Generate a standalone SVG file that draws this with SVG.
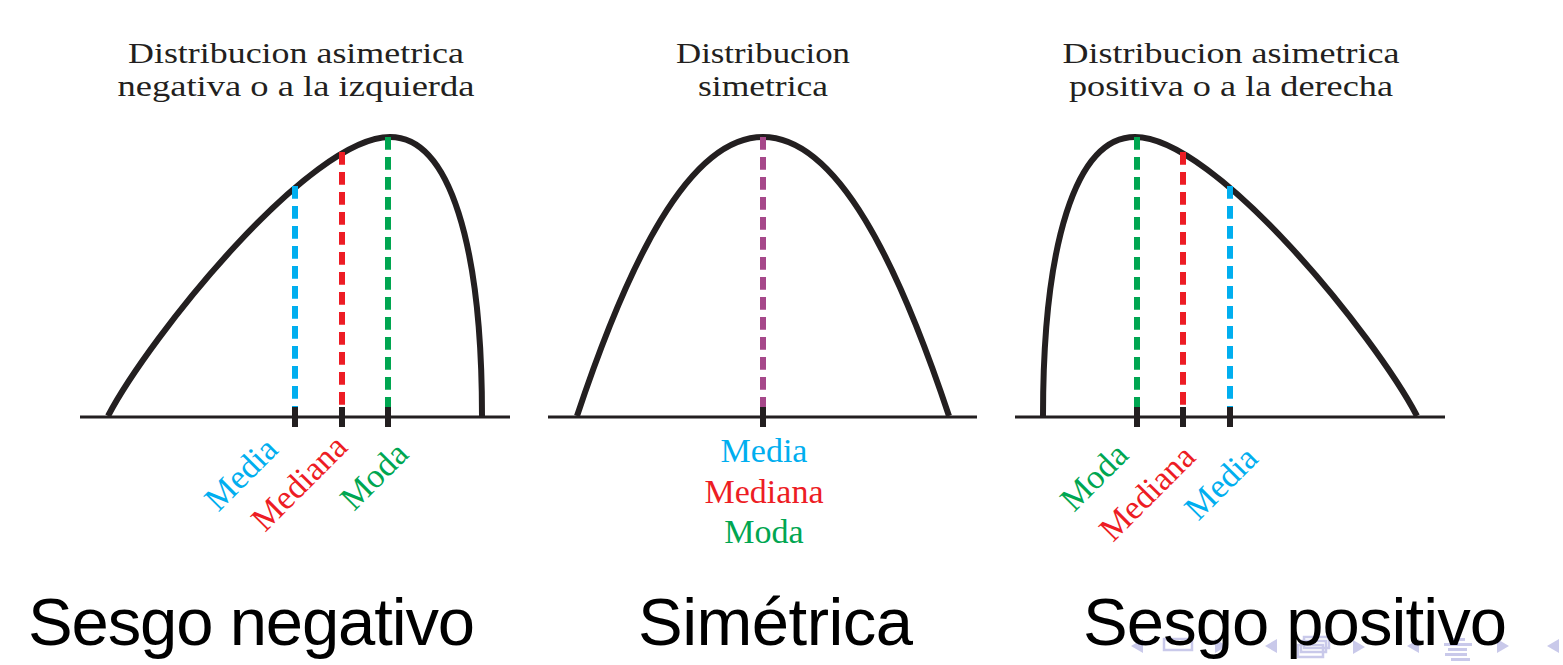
<svg xmlns="http://www.w3.org/2000/svg" width="1563" height="665" viewBox="0 0 1563 665">
<style>
.bg{fill:#ffffff}
.title{font-family:"Liberation Serif","Times New Roman",serif;font-size:30px;fill:#231F20;text-anchor:middle}
.lbl{font-family:"Liberation Serif","Times New Roman",serif;font-size:34px;text-anchor:middle}
.big{font-family:"Liberation Sans",Arial,sans-serif;font-size:67px;fill:#000000}
.axis{stroke:#231F20;stroke-width:3;fill:none}
.curve{stroke:#231F20;stroke-width:6;fill:none}
.tick{stroke:#231F20;stroke-width:6}
.dash{stroke-width:6;stroke-dasharray:12.7 7.3;fill:none}
.blue{fill:#00AEEF;stroke:#00AEEF}
.red{fill:#ED1C24;stroke:#ED1C24}
.green{fill:#00A651;stroke:#00A651}
.purple{stroke:#A6488A}
.nav{fill:#C9C9EA}
.navs{fill:none;stroke:#C9C9EA;stroke-width:2.5}
</style>
<rect class="bg" x="0" y="0" width="1563" height="665"/>

<g id="nav-icons">
  <polygon class="nav" points="1131,646 1143,639 1143,653"/>
  <rect class="navs" x="1164" y="639" width="28" height="11"/>
  <polygon class="nav" points="1227,646 1215,639 1215,653"/>
  <polygon class="nav" points="1265,646 1277,639 1277,653"/>
  <rect class="navs" x="1304" y="637" width="25" height="11"/>
  <rect class="navs" x="1301" y="641" width="25" height="11" fill="#ffffff"/>
  <rect class="navs" x="1298" y="645" width="25" height="12" fill="#ffffff"/>
  <polygon class="nav" points="1365,647 1353,640 1353,654"/>
  <polygon class="nav" points="1407,646 1419,639 1419,653"/>
  <rect class="nav" x="1450" y="638" width="15" height="3"/>
  <rect class="nav" x="1444" y="643" width="28" height="3"/>
  <rect class="nav" x="1448" y="648" width="19" height="3"/>
  <rect class="nav" x="1445" y="653" width="22" height="3"/>
  <rect class="nav" x="1451" y="658" width="19" height="3"/>
  <polygon class="nav" points="1509,646 1497,639 1497,653"/>
  <polygon class="nav" points="1547,646 1559,639 1559,653"/>
</g>

<g id="title-left">
  <text class="title"><tspan x="296" y="62.5" textLength="336" lengthAdjust="spacingAndGlyphs">Distribucion asimetrica</tspan><tspan x="296" y="96" textLength="357" lengthAdjust="spacingAndGlyphs">negativa o a la izquierda</tspan></text>
</g>
<g id="title-mid">
  <text class="title"><tspan x="763" y="62.5" textLength="174" lengthAdjust="spacingAndGlyphs">Distribucion</tspan><tspan x="763" y="96" textLength="130" lengthAdjust="spacingAndGlyphs">simetrica</tspan></text>
</g>
<g id="title-right">
  <text class="title"><tspan x="1231" y="62.5" textLength="337" lengthAdjust="spacingAndGlyphs">Distribucion asimetrica</tspan><tspan x="1231" y="96" textLength="324" lengthAdjust="spacingAndGlyphs">positiva o a la derecha</tspan></text>
</g>

<g id="chart-left">
  <line class="axis" x1="80" y1="417" x2="510" y2="417"/>
  <path class="curve" d="M108,416 C150,336 310,137 390,137 C450,137 482,246 482,416"/>
</g>
<g id="chart-mid">
  <line class="axis" x1="548" y1="417" x2="977" y2="417"/>
  <path class="curve" d="M577,416 C627,266 688,137 763,137 C838,137 899,266 949,416"/>
</g>
<g id="chart-right">
  <line class="axis" x1="1015" y1="417" x2="1445" y2="417"/>
  <path class="curve" d="M1417,416 C1375,336 1215,137 1135,137 C1075,137 1043,246 1043,416"/>
</g>

<g id="connectors">
  <line class="dash blue" x1="295" y1="186" x2="295" y2="407"/>
  <line class="dash red" x1="342" y1="152" x2="342" y2="407"/>
  <line class="dash green" x1="388" y1="137" x2="388" y2="407"/>
  <line class="dash purple" x1="763" y1="137" x2="763" y2="407"/>
  <line class="dash green" x1="1137" y1="137" x2="1137" y2="407"/>
  <line class="dash red" x1="1183" y1="152" x2="1183" y2="407"/>
  <line class="dash blue" x1="1230" y1="186" x2="1230" y2="407"/>
  <line class="tick" x1="295" y1="407" x2="295" y2="427"/>
  <line class="tick" x1="342" y1="407" x2="342" y2="427"/>
  <line class="tick" x1="388" y1="407" x2="388" y2="427"/>
  <line class="tick" x1="763" y1="407" x2="763" y2="427"/>
  <line class="tick" x1="1137" y1="407" x2="1137" y2="427"/>
  <line class="tick" x1="1183" y1="407" x2="1183" y2="427"/>
  <line class="tick" x1="1230" y1="407" x2="1230" y2="427"/>
</g>

<g id="labels-left">
  <text class="lbl" style="fill:#00AEEF" transform="translate(249,482) rotate(-45)">Media</text>
  <text class="lbl" style="fill:#ED1C24" transform="translate(307,491) rotate(-45)">Mediana</text>
  <text class="lbl" style="fill:#00A651" transform="translate(382,484) rotate(-45)">Moda</text>
</g>
<g id="labels-mid">
  <text class="lbl" style="fill:#00AEEF" x="764" y="462">Media</text>
  <text class="lbl" style="fill:#ED1C24" x="764" y="502.5">Mediana</text>
  <text class="lbl" style="fill:#00A651" x="764" y="542.5">Moda</text>
</g>
<g id="labels-right">
  <text class="lbl" style="fill:#00A651" transform="translate(1102,485) rotate(-45)">Moda</text>
  <text class="lbl" style="fill:#ED1C24" transform="translate(1155,501) rotate(-45)">Mediana</text>
  <text class="lbl" style="fill:#00AEEF" transform="translate(1229,491) rotate(-45)">Media</text>
</g>

<g id="caption-left">
  <text class="big" x="28" y="645" textLength="447" lengthAdjust="spacing">Sesgo negativo</text>
</g>
<g id="caption-mid">
  <text class="big" x="638" y="645" textLength="275" lengthAdjust="spacing">Simétrica</text>
</g>
<g id="caption-right">
  <text class="big" x="1083" y="645" textLength="424" lengthAdjust="spacing">Sesgo positivo</text>
</g>
</svg>
